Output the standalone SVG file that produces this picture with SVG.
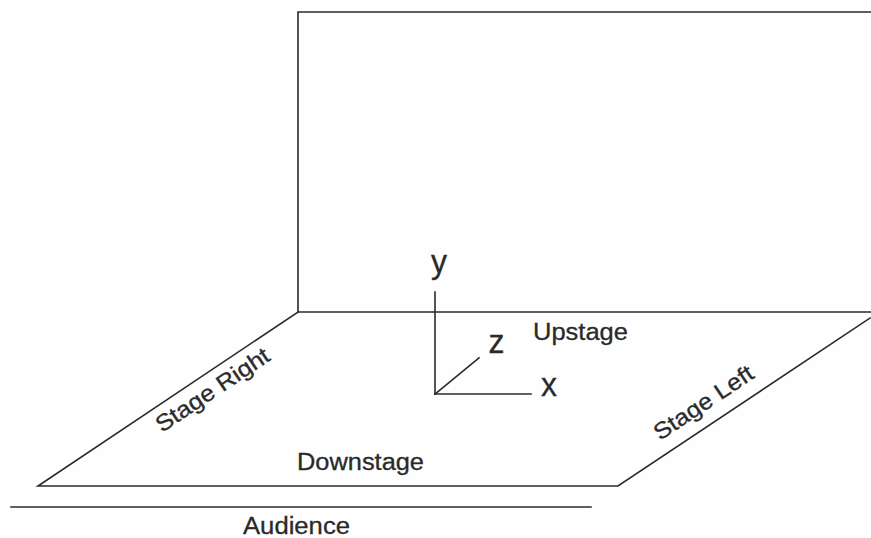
<svg xmlns="http://www.w3.org/2000/svg" width="871" height="538" viewBox="0 0 871 538">
<style>
.ln{fill:none;stroke:#2a2a2a;stroke-width:1.6;stroke-linecap:square}
.t{font-family:"Liberation Sans",Arial,sans-serif;font-size:23px;fill:#2a2a2a;stroke:#2a2a2a;stroke-width:0.3}
.ax{font-size:33px}
</style>
<rect width="871" height="538" fill="#fefefe"/>
<g id="wall">
<polyline class="ln" points="872,12 298,12 298,312 872,312"/>
</g>
<g id="floor">
<polyline class="ln" points="298,312 38,486 618,486 870,318"/>
</g>
<g id="audience-line">
<line class="ln" x1="11" y1="507" x2="591" y2="507"/>
</g>
<g id="axes">
<line class="ln" x1="435" y1="292" x2="435" y2="394"/>
<line class="ln" x1="435" y1="394" x2="531" y2="394"/>
<line class="ln" x1="435" y1="394" x2="479" y2="358" stroke-width="1.2"/>
</g>
<g id="labels">
<text class="t ax" x="431" y="272.5" textLength="16" lengthAdjust="spacingAndGlyphs">y</text>
<text class="t ax" x="541" y="395.7" textLength="16" lengthAdjust="spacingAndGlyphs">x</text>
<text class="t ax" x="488.5" y="352.5" textLength="16" lengthAdjust="spacingAndGlyphs">z</text>
<text class="t" x="533" y="340" textLength="95" lengthAdjust="spacingAndGlyphs">Upstage</text>
<text class="t" x="297" y="470" textLength="127" lengthAdjust="spacingAndGlyphs">Downstage</text>
<text class="t" x="243" y="534" textLength="107" lengthAdjust="spacingAndGlyphs">Audience</text>
<text class="t" transform="translate(162,433) rotate(-33.8)" textLength="132" lengthAdjust="spacingAndGlyphs">Stage Right</text>
<text class="t" transform="translate(660,441) rotate(-33.7)" textLength="115" lengthAdjust="spacingAndGlyphs">Stage Left</text>
</g>
</svg>
